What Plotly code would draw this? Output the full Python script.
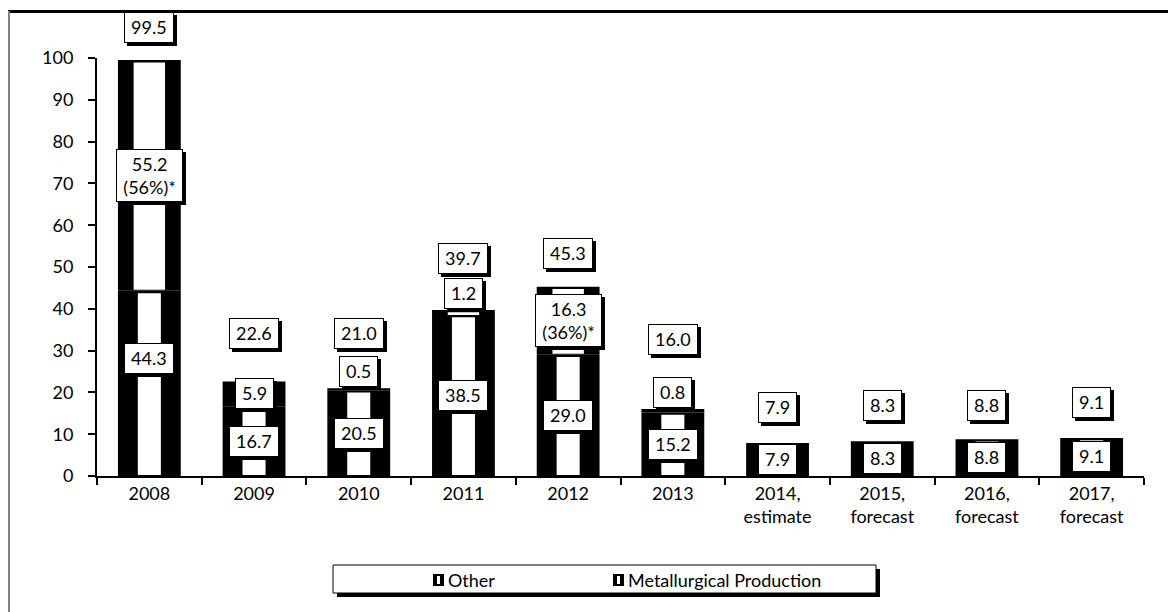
import plotly.graph_objects as go

# ---- data -------------------------------------------------------------
categories = ["2008", "2009", "2010", "2011", "2012", "2013",
              "2014,<br>estimate", "2015,<br>forecast",
              "2016,<br>forecast", "2017,<br>forecast"]
other = [44.3, 16.7, 20.5, 38.5, 29.0, 15.2, 7.9, 8.3, 8.8, 9.1]
metallurgical = [55.2, 5.9, 0.5, 1.2, 16.3, 0.8, 0, 0, 0, 0]
totals = [99.5, 22.6, 21.0, 39.7, 45.3, 16.0, 7.9, 8.3, 8.8, 9.1]
metallurgical_share = ["(56%)*", None, None, None, "(36%)*",
                       None, None, None, None, None]
series_names = ["Other", "Metallurgical Production"]
y_ticks = [0, 10, 20, 30, 40, 50, 60, 70, 80, 90, 100]

# ---- layout / style ---------------------------------------------------
W, H = 1168, 612
ML, MR, MT, MB = 97, 24, 58, 136
PW, PH = W - ML - MR, H - MT - MB
FONT = "Lato"
FS = 18

# label placement (pixels above the bar top for the total labels)
total_label_lift = [33, 48, 55, 52, 33, 70, 35, 36, 34, 35]
other_label_lift = [25, 0, 0, 0, 0, 0, 0, 0, 0, 0]
SMALL_SEGMENT = 2.0      # segments below this get their label above the bar

INSET_TOP, INSET_BOT = 0.55, 0.25
n = len(categories)
pos = list(range(n))     # category index, used to place the labels

fig = go.Figure()

# black outer stacks
fig.add_bar(x=categories, y=other, base=[0] * n, width=0.6,
            marker=dict(color="black", line_width=0), name=series_names[0],
            showlegend=False, hoverinfo="skip")
fig.add_bar(x=categories, y=metallurgical, base=other, width=0.6,
            marker=dict(color="black", line_width=0), name=series_names[1],
            showlegend=False, hoverinfo="skip")
# white inner strips
fig.add_bar(x=categories,
            y=[max(v - INSET_TOP - INSET_BOT, 0) for v in other],
            base=[INSET_BOT] * n, width=0.22,
            marker=dict(color="white", line_width=0),
            showlegend=False, hoverinfo="skip")
fig.add_bar(x=categories,
            y=[max(m - INSET_TOP - INSET_BOT, 0) for m in metallurgical],
            base=[o + INSET_BOT for o in other], width=0.3,
            marker=dict(color="white", line_width=0),
            showlegend=False, hoverinfo="skip")

# ---- boxed value labels with drop shadow -----------------------------
CW = {"0": .58, "1": .58, "2": .58, "3": .58, "4": .58, "5": .58, "6": .58,
      "7": .58, "8": .58, "9": .58, ".": .25, "(": .30, ")": .30, "%": .78,
      "*": .42}


def text_w(s):
    return sum(CW.get(c, .55) for c in s) * FS


def boxed(x, y, text, yanchor="middle", yshift=0):
    lines = text.split("<br>")
    w = max(text_w(l) for l in lines) + 6
    h = 22.5 * len(lines)
    common = dict(x=x, y=y, xref="x", yref="y", showarrow=False,
                  width=w, height=h, borderpad=3, borderwidth=1,
                  bordercolor="black", yanchor=yanchor, align="center",
                  font=dict(family=FONT, size=FS, color="black"))
    fig.add_annotation(text=" ", bgcolor="black", xshift=3,
                       yshift=yshift - 3, **common)
    fig.add_annotation(text=text, bgcolor="white", yshift=yshift, **common)


for i in pos:
    # total on top
    boxed(i, totals[i], f"{totals[i]:.1f}", yshift=total_label_lift[i])
    # other segment
    boxed(i, other[i] / 2, f"{other[i]:.1f}", yshift=other_label_lift[i])
    # metallurgical segment
    m = metallurgical[i]
    if m > 0:
        txt = f"{m:.1f}"
        if metallurgical_share[i]:
            txt += "<br>" + metallurgical_share[i]
        if m < SMALL_SEGMENT:
            boxed(i, other[i] + m, txt, yanchor="bottom", yshift=1)
        else:
            boxed(i, other[i] + m / 2, txt)


# ---- helpers for paper coordinates -----------------------------------
def px(p):
    return (p - ML) / PW


def py(p):
    return (H - MB - p) / PH


shapes = []
# outer frame edges
shapes.append(dict(type="line", xref="paper", yref="paper",
                   x0=px(8), x1=px(1170), y0=py(11.5), y1=py(11.5),
                   line=dict(color="black", width=3)))
shapes.append(dict(type="line", xref="paper", yref="paper",
                   x0=px(9), x1=px(9), y0=py(11), y1=py(614),
                   line=dict(color="#7f7f7f", width=2)))

# legend box with shadow
LX0, LX1, LY0, LY1 = 333, 876, 565, 593
shapes.append(dict(type="rect", xref="paper", yref="paper",
                   x0=px(LX0 + 4), x1=px(LX1 + 4), y0=py(LY0 + 4), y1=py(LY1 + 4),
                   fillcolor="black", line=dict(width=0)))
shapes.append(dict(type="rect", xref="paper", yref="paper",
                   x0=px(LX0), x1=px(LX1), y0=py(LY0), y1=py(LY1),
                   fillcolor="white", line=dict(color="black", width=1)))
legend_items = [(433, series_names[0]), (613, series_names[1])]
for sx, name in legend_items:
    shapes.append(dict(type="rect", xref="paper", yref="paper",
                       x0=px(sx), x1=px(sx + 11), y0=py(574), y1=py(586),
                       fillcolor="black", line=dict(width=0)))
    shapes.append(dict(type="rect", xref="paper", yref="paper",
                       x0=px(sx + 4), x1=px(sx + 7), y0=py(576), y1=py(584),
                       fillcolor="white", line=dict(width=0)))
    fig.add_annotation(x=px(sx + 13), y=py(579.5), xref="paper", yref="paper",
                       text=name, showarrow=False, xanchor="left",
                       yanchor="middle",
                       font=dict(family=FONT, size=FS, color="black"))

fig.update_layout(
    width=W, height=H, barmode="overlay",
    margin=dict(l=ML, r=MR, t=MT, b=MB, pad=0),
    paper_bgcolor="white", plot_bgcolor="white",
    font=dict(family=FONT, size=FS, color="black"),
    showlegend=False, shapes=shapes,
    xaxis=dict(type="category", range=[-0.5, n - 0.5], showgrid=False,
               showline=True, linecolor="black", linewidth=2,
               ticks="outside", tickson="boundaries", ticklen=7,
               tickwidth=2, tickcolor="black", zeroline=False),
    yaxis=dict(range=[0, 100], tickvals=y_ticks, showgrid=False,
               showline=True, linecolor="black", linewidth=2,
               ticks="outside", ticklen=7, tickwidth=2, tickcolor="black",
               ticklabelstandoff=11, zeroline=False),
)

fig.write_html("out.html")
